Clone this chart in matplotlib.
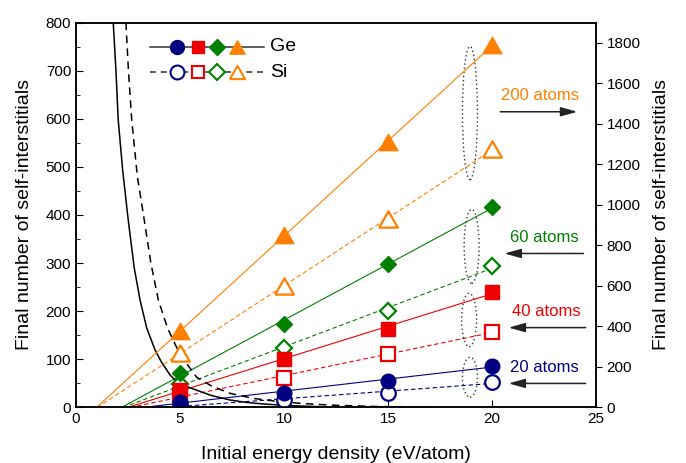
import numpy as np
import matplotlib
matplotlib.use("Agg")
import matplotlib.pyplot as plt
from matplotlib.patches import Ellipse

plt.rcParams['font.family'] = ['Liberation Sans', 'DejaVu Sans']

# ---------------- data ----------------
energy = [5, 10, 15, 20]

# left axis (20, 40, 60 atoms)
ge_20 = [12, 31, 56, 87]
si_20 = [5, 16, 29.5, 53.6]
ge_40 = [37, 100, 163, 240.6]
si_40 = [25, 61, 111, 157.5]
ge_60 = [71, 173.5, 298, 417]
si_60 = [49, 123, 201, 294.6]
# right axis (200 atoms)
ge_200 = [376, 850, 1312, 1787]
si_200 = [268, 602, 929, 1274]

# decaying curves (left axis)
curve_solid_x = [1.79, 1.92, 2.03, 2.25, 2.51, 2.8, 3.08, 3.4, 3.8, 4.1, 4.52, 4.84,
                 5.3, 5.8, 6.5, 7.4, 8.2, 9.0, 10.3, 11.7]
curve_solid_y = [800, 700, 597, 490, 390, 290, 223, 165, 119.5, 95, 67.5, 54,
                 44, 36, 25, 15.6, 10.5, 7.3, 3.8, 1.7]
curve_dash_x = [2.40, 2.52, 2.68, 2.95, 3.28, 3.6, 3.96, 4.4, 5.0, 5.8, 6.5, 7.4,
                8.5, 9.8, 11.0, 12.2, 14.5, 17.3]
curve_dash_y = [800, 700, 597, 480, 390, 300, 223, 165, 110, 63, 45, 29.5,
                19, 12, 8, 5, 2, 0.5]

labels = ["200 atoms", "60 atoms", "40 atoms", "20 atoms"]

navy = '#000080'
red = '#ee0000'
green = '#008000'
orange = '#ff8000'

# wide triangle marker (width slightly larger than height)
tri = [(-1.15, -1.0), (1.15, -1.0), (0.0, 1.0), (-1.15, -1.0)]

fig = plt.figure(figsize=(6.86, 4.63), dpi=100)
ax = fig.add_axes([0.1108, 0.1199, 0.8688 - 0.1108, 0.9514 - 0.1199])
ax2 = ax.twinx()

ax.set_xlim(0, 25)
ax.set_ylim(0, 800)
ax2.set_ylim(0, 1900)


def fit_line(axis, y, color, ls):
    x = np.array(energy, dtype=float)
    k, b = np.polyfit(x, np.array(y, dtype=float), 1)
    x0 = max(0.0, -b / k)
    xs = np.array([x0, 20.0])
    if ls == '--':
        axis.plot(xs, k * xs + b, color=color, lw=0.8, ls='--', dashes=(4, 2.5), zorder=2)
    else:
        axis.plot(xs, k * xs + b, color=color, lw=0.8, ls='-', zorder=2)


# fit lines
for axis, y, c in [(ax, ge_20, navy), (ax, ge_40, red), (ax, ge_60, green), (ax2, ge_200, orange)]:
    fit_line(axis, y, c, '-')
for axis, y, c in [(ax, si_20, navy), (ax, si_40, red), (ax, si_60, green), (ax2, si_200, orange)]:
    fit_line(axis, y, c, '--')

# black curves
ax.plot(curve_solid_x, curve_solid_y, color='black', lw=1.1, zorder=2)
ax.plot(curve_dash_x, curve_dash_y, color='black', lw=1.1, ls='--', dashes=(5, 3.5), zorder=2)

# markers: Si (open) first, then Ge (filled)
mew = 1.6
ax2.plot(energy, si_200, ls='none', marker=tri, ms=13.5, mfc='white', mec=orange, mew=mew, zorder=3)
ax.plot(energy, si_60, ls='none', marker='D', ms=8.5, mfc='white', mec=green, mew=mew, zorder=3)
ax.plot(energy, si_40, ls='none', marker='s', ms=9.5, mfc='white', mec=red, mew=mew, zorder=3)
ax.plot(energy, si_20, ls='none', marker='o', ms=10.5, mfc='white', mec=navy, mew=mew, zorder=3)

ax2.plot(energy, ge_200, ls='none', marker=tri, ms=13.5, mfc=orange, mec=orange, zorder=4)
ax.plot(energy, ge_60, ls='none', marker='D', ms=8.5, mfc=green, mec=green, zorder=4)
ax.plot(energy, ge_40, ls='none', marker='s', ms=9.5, mfc=red, mec=red, zorder=4)
ax.plot(energy, ge_20, ls='none', marker='o', ms=10.5, mfc=navy, mec=navy, zorder=4)

# dotted ellipses
ell_x = [18.94, 19.02, 18.9, 18.94]
ell_y = [612, 335, 182, 63]
ell_h = [277, 154, 111, 83]
for ex, ey, eh in zip(ell_x, ell_y, ell_h):
    ax.add_patch(Ellipse((ex, ey), 0.72, eh, fill=False, ls=(0, (1, 2)), lw=1.0,
                         ec='#333333', zorder=2))

# labels and arrows
lab_x = [22.3, 22.5, 22.6, 22.5]
lab_y = [649, 354, 199, 84]
lab_c = [orange, green, red, navy]
for t, lx, ly, c in zip(labels, lab_x, lab_y, lab_c):
    ax.text(lx, ly, t, color=c, fontsize=12, ha='center', va='center', zorder=5)

arr_start = [(20.4, 614.5), (24.4, 320), (24.5, 166), (24.5, 50)]
arr_end = [(24.1, 614.5), (20.6, 320), (20.8, 166), (20.8, 50)]
for s, e in zip(arr_start, arr_end):
    ax.annotate('', xy=e, xytext=s,
                arrowprops=dict(arrowstyle='-|>,head_length=1.0,head_width=0.28',
                                color='#222222', lw=1.1, shrinkA=0, shrinkB=0), zorder=5)

# manual legend
def ax_frac(px, py):
    return (px - 76) / 520.0, (407.5 - py) / 385.0

lx0, ly = ax_frac(150, 46.7)
lx1, _ = ax_frac(264, 46.7)
ax.plot([lx0, lx1], [ly, ly], transform=ax.transAxes, color='#333333', lw=1.1, zorder=6)
mk_px = [177, 198, 217, 237]
mk = ['o', 's', 'D', tri]
mk_c = [navy, red, green, orange]
mk_s = [10, 9, 8, 11]
for px, m, c, s in zip(mk_px, mk, mk_c, mk_s):
    fx, _ = ax_frac(px, 0)
    ax.plot([fx], [ly], transform=ax.transAxes, marker=m, ms=s, color=c, ls='none', zorder=7)
tx, _ = ax_frac(270, 0)
ax.text(tx, ly, 'Ge', transform=ax.transAxes, fontsize=14, va='center', ha='left')

_, ly2 = ax_frac(0, 72.3)
ax.plot([lx0, lx1], [ly2, ly2], transform=ax.transAxes, color='#333333', lw=1.1,
        ls='--', dashes=(4, 3), zorder=6)
for px, m, c, s in zip(mk_px, mk, mk_c, mk_s):
    fx, _ = ax_frac(px, 0)
    ax.plot([fx], [ly2], transform=ax.transAxes, marker=m, ms=s, mfc='white', mec=c,
            mew=1.5, ls='none', zorder=7)
ax.text(tx, ly2, 'Si', transform=ax.transAxes, fontsize=14, va='center', ha='left')

# ticks
ax.set_xticks([0, 5, 10, 15, 20, 25])
ax.set_yticks(np.arange(0, 801, 100))
ax.set_yticks(np.arange(0, 801, 50), minor=True)
ax.tick_params(axis='both', which='both', direction='in', labelsize=11,
               top=False, right=False)
ax.tick_params(axis='y', which='major', length=5)
ax.tick_params(axis='y', which='minor', length=3)
ax.tick_params(axis='x', which='major', length=5)
ax2.set_yticks(np.arange(0, 1801, 200))
ax2.tick_params(axis='y', direction='out', labelsize=11, length=4)

ax.set_xlabel('Initial energy density (eV/atom)', fontsize=14, labelpad=14)
ax.set_ylabel('Final number of self-interstitials', fontsize=14, labelpad=9)
ax2.set_ylabel('Final number of self-interstitials', fontsize=14, labelpad=9)

for sp in ax.spines.values():
    sp.set_linewidth(1.1)
for sp in ax2.spines.values():
    sp.set_linewidth(1.1)

fig.savefig('out.png', dpi=100)
